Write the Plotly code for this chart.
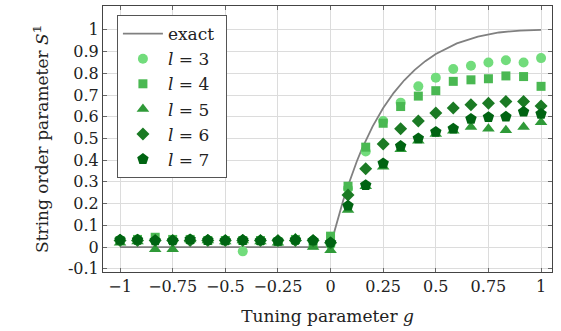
import plotly.graph_objects as go

g = [-1, -0.917, -0.833, -0.75, -0.667, -0.583, -0.5, -0.417, -0.333, -0.25, -0.167, -0.083,
     0, 0.083, 0.167, 0.25, 0.333, 0.417, 0.5, 0.583, 0.667, 0.75, 0.833, 0.917, 1]

l3 = [0.03, 0.035, 0.03, 0.03, 0.035, 0.03, 0.03, -0.02, 0.03, 0.025, 0.03, 0.03,
      0.01, 0.27, 0.44, 0.58, 0.665, 0.74, 0.78, 0.82, 0.835, 0.85, 0.86, 0.85, 0.87]
l4 = [0.03, 0.035, 0.045, 0.035, 0.035, 0.03, 0.03, 0.03, 0.03, 0.025, 0.035, 0.01,
      0.05, 0.28, 0.46, 0.57, 0.647, 0.695, 0.72, 0.763, 0.77, 0.775, 0.788, 0.785, 0.74]
l5 = [0.02, 0.025, -0.01, -0.01, 0.035, 0.03, 0.025, 0.03, 0.025, 0.02, 0.04, 0.0,
      -0.015, 0.17, 0.28, 0.37, 0.45, 0.49, 0.52, 0.535, 0.553, 0.545, 0.538, 0.553, 0.575]
l6 = [0.03, 0.03, 0.03, 0.03, 0.03, 0.03, 0.03, 0.03, 0.03, 0.03, 0.03, 0.03,
      0.02, 0.24, 0.36, 0.475, 0.545, 0.58, 0.617, 0.64, 0.655, 0.662, 0.67, 0.67, 0.65]
l7 = [0.033, 0.033, 0.03, 0.03, 0.035, 0.032, 0.03, 0.032, 0.03, 0.028, 0.033, 0.03,
      0.02, 0.19, 0.285, 0.385, 0.465, 0.5, 0.53, 0.545, 0.59, 0.598, 0.6, 0.623, 0.613]

exact_g = [-1, -0.5, 0, 0.02, 0.04, 0.06, 0.08, 0.1, 0.125, 0.15, 0.175, 0.2, 0.25, 0.3,
           0.35, 0.4, 0.45, 0.5, 0.6, 0.7, 0.8, 0.9, 1]
exact_s = [0, 0, 0, 0.077, 0.148, 0.214, 0.274, 0.331, 0.395, 0.454, 0.507, 0.556, 0.64,
           0.71, 0.768, 0.816, 0.856, 0.889, 0.938, 0.969, 0.988, 0.997, 1]

series = [
    ("<i>l</i> = 3", l3, "circle", "#72dc7c", 10),
    ("<i>l</i> = 4", l4, "square", "#4ab852", 9),
    ("<i>l</i> = 5", l5, "triangle-up", "#2f9a38", 11),
    ("<i>l</i> = 6", l6, "diamond", "#1b7a24", 10),
    ("<i>l</i> = 7", l7, "pentagon", "#006412", 12),
]

xtickvals = [-1, -0.75, -0.5, -0.25, 0, 0.25, 0.5, 0.75, 1]
xticktext = ["\u22121", "\u22120.75", "\u22120.5", "\u22120.25", "0", "0.25", "0.5", "0.75", "1"]
ytickvals = [-0.1, 0, 0.1, 0.2, 0.3, 0.4, 0.5, 0.6, 0.7, 0.8, 0.9, 1]
yticktext = ["-0.1", "0", "0.1", "0.2", "0.3", "0.4", "0.5", "0.6", "0.7", "0.8", "0.9", "1"]

FONT = "DejaVu Serif"

fig = go.Figure()
fig.add_trace(go.Scatter(x=exact_g, y=exact_s, mode="lines", name="exact",
                         line=dict(color="#808080", width=1.8)))
for name, vals, sym, col, sz in series:
    fig.add_trace(go.Scatter(x=g, y=vals, mode="markers", name=name + "  ",
                             marker=dict(symbol=sym, color=col, size=sz, line=dict(width=0))))

fig.update_layout(
    width=561, height=331,
    margin=dict(l=103, r=9, t=6, b=59),
    paper_bgcolor="white", plot_bgcolor="white",
    font=dict(family=FONT, size=16, color="#222"),
    showlegend=True,
    legend=dict(x=0.031, y=0.966, xanchor="left", yanchor="top",
                bgcolor="white", bordercolor="#555", borderwidth=1,
                font=dict(family=FONT, size=17), tracegroupgap=0, itemwidth=40),
)
fig.update_xaxes(range=[-1.081, 1.052], tickvals=xtickvals, ticktext=xticktext,
                 showgrid=True, gridcolor="#dcdcdc", gridwidth=1,
                 showline=True, linecolor="#444", linewidth=1, mirror="allticks",
                 ticks="inside", ticklen=4, tickcolor="#666", zeroline=False,
                 title=dict(text="Tuning parameter <i>g</i>", standoff=14,
                            font=dict(family=FONT, size=17)))
fig.update_yaxes(range=[-0.115, 1.11], tickvals=ytickvals, ticktext=yticktext,
                 showgrid=True, gridcolor="#dcdcdc", gridwidth=1,
                 showline=True, linecolor="#444", linewidth=1, mirror="allticks",
                 ticks="inside", ticklen=4, tickcolor="#666", zeroline=False,
                 title=dict(text="String order parameter <i>S</i><sup>\U0001D7D9</sup>", standoff=14,
                            font=dict(family=FONT, size=17)))

fig.write_html("out.html")
